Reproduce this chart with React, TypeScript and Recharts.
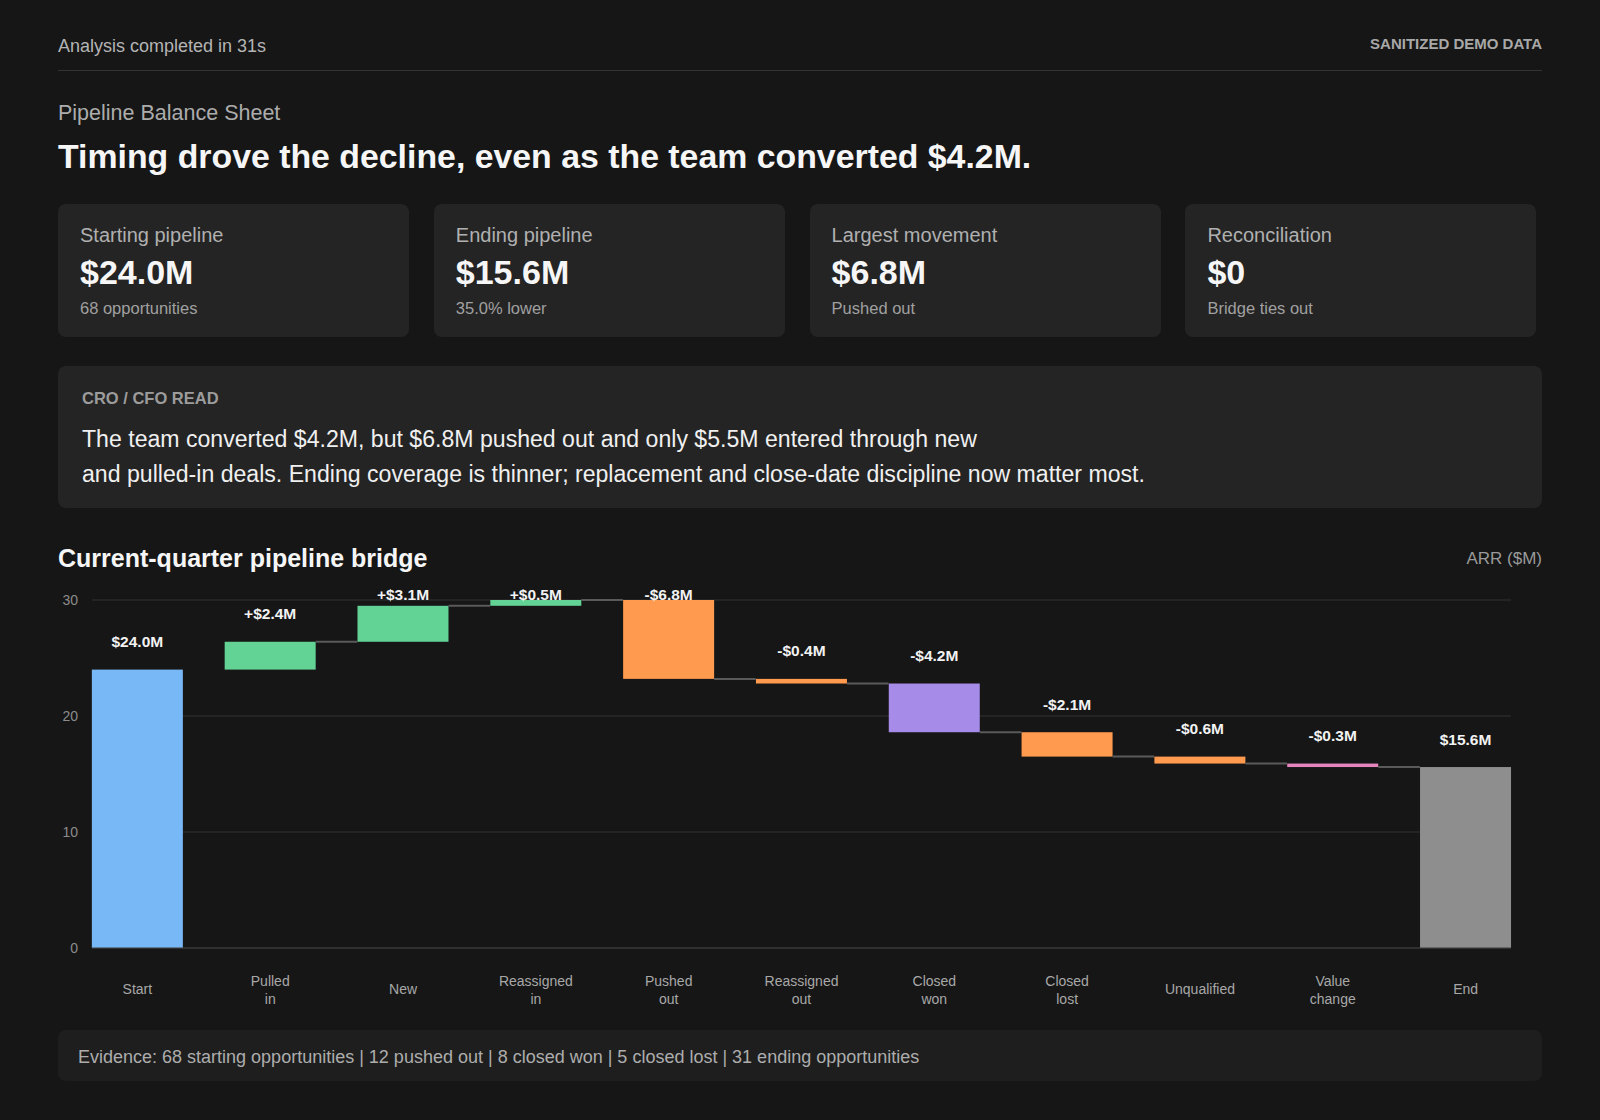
import { BarChart, Bar, XAxis, YAxis, CartesianGrid, Cell } from 'recharts';

const categories = ['Start', 'Pulled in', 'New', 'Reassigned in', 'Pushed out', 'Reassigned out', 'Closed won', 'Closed lost', 'Unqualified', 'Value change', 'End'];
const movements = [24.0, 2.4, 3.1, 0.5, -6.8, -0.4, -4.2, -2.1, -0.6, -0.3, 15.6];
const kinds = ['total', 'step', 'step', 'step', 'step', 'step', 'step', 'step', 'step', 'step', 'total'];
const barColors = ['#79b8f6', '#62d394', '#62d394', '#62d394', '#ff9a4e', '#ff9a4e', '#a68ce8', '#ff9a4e', '#ff9a4e', '#e686bf', '#8e8e8e'];
const yTicks = [0, 10, 20, 30];

const cards = [
  { label: 'Starting pipeline', value: '$24.0M', note: '68 opportunities' },
  { label: 'Ending pipeline', value: '$15.6M', note: '35.0% lower' },
  { label: 'Largest movement', value: '$6.8M', note: 'Pushed out' },
  { label: 'Reconciliation', value: '$0', note: 'Bridge ties out' },
];

const FONT = '"Liberation Sans", Arial, sans-serif';
const PLOT_TOP = 20;
const GAP_FRAC = 0.157; // barCategoryGap on each side of a band

// running totals -> invisible base + visible delta
const chartData = (() => {
  let level = 0;
  return categories.map((name, i) => {
    const mv = movements[i];
    let base: number, delta: number, up: boolean;
    if (kinds[i] === 'total') {
      base = 0;
      delta = mv;
      up = true;
      level = mv;
    } else {
      const next = level + mv;
      base = Math.min(level, next);
      delta = Math.abs(mv);
      up = mv >= 0;
      level = next;
    }
    const label = kinds[i] === 'total'
      ? `$${mv.toFixed(1)}M`
      : `${mv >= 0 ? '+' : '-'}$${Math.abs(mv).toFixed(1)}M`;
    return { name, base, delta, up, label, connect: i > 0 && i < categories.length - 1 };
  });
})();

function Txt({ x, cy, size, color, weight = 400, children, align = 'left' }: any) {
  const lh = Math.round(size * 1.25);
  const style: any = {
    position: 'absolute',
    top: cy - lh / 2,
    fontSize: size,
    lineHeight: `${lh}px`,
    color,
    fontWeight: weight,
    whiteSpace: 'nowrap',
  };
  if (align === 'right') style.right = 1600 - x;
  else style.left = x;
  return <div style={style}>{children}</div>;
}

const WaterfallShape = (props: any) => {
  const { x, y, width, height, fill, payload } = props;
  const gap = (width * 2 * GAP_FRAC) / (1 - 2 * GAP_FRAC);
  const level = payload.up ? y : y + height;
  const ly = Math.max(y - 28, PLOT_TOP - 6);
  return (
    <g>
      <rect x={x} y={y} width={width} height={height} fill={fill} />
      {payload.connect && (
        <line x1={x + width} x2={x + width + gap} y1={level} y2={level} stroke="#5a5a5a" strokeWidth={2} />
      )}
      <text x={x + width / 2} y={ly} textAnchor="middle" dominantBaseline="central" fill="#f2f2f2" fontSize={15.5} fontWeight={700} fontFamily={FONT}>
        {payload.label}
      </text>
    </g>
  );
};

const XTick = (props: any) => {
  const { x, y, payload } = props;
  const words = String(payload.value).split(' ');
  const lines = words.length > 1 ? [words.slice(0, -1).join(' '), words[words.length - 1]] : words;
  const start = lines.length === 1 ? y + 33 : y + 25;
  return (
    <g>
      {lines.map((ln, i) => (
        <text key={i} x={x} y={start + i * 18} textAnchor="middle" dominantBaseline="central" fill="#a8a8a8" fontSize={14} fontFamily={FONT}>
          {ln}
        </text>
      ))}
    </g>
  );
};

export default function App() {
  return (
    <div style={{ position: 'absolute', left: 0, top: 0, width: 1600, height: 1120, background: '#161616', fontFamily: FONT, overflow: 'hidden' }}>
      <Txt x={58} cy={46} size={18} color="#b4b4b4">Analysis completed in 31s</Txt>
      <Txt x={1542} cy={43} size={15} color="#a8a8a8" weight={700} align="right">SANITIZED DEMO DATA</Txt>
      <div style={{ position: 'absolute', left: 58, top: 70, width: 1484, height: 1, background: '#333' }} />

      <Txt x={58} cy={113} size={21.5} color="#acacac">Pipeline Balance Sheet</Txt>
      <Txt x={58} cy={156} size={33.85} color="#f6f6f6" weight={700}>Timing drove the decline, even as the team converted $4.2M.</Txt>

      {cards.map((c, i) => {
        const left = 58 + i * 375.8;
        return (
          <div key={c.label} style={{ position: 'absolute', left, top: 204, width: 351, height: 133, background: '#242424', borderRadius: 8 }}>
            <Txt x={22} cy={31} size={20} color="#b0b0b0">{c.label}</Txt>
            <Txt x={22} cy={68} size={34} color="#f6f6f6" weight={700}>{c.value}</Txt>
            <Txt x={22} cy={104} size={16.5} color="#a0a0a0">{c.note}</Txt>
          </div>
        );
      })}

      <div style={{ position: 'absolute', left: 58, top: 366, width: 1484, height: 142, background: '#242424', borderRadius: 8 }}>
        <Txt x={24} cy={32} size={16.5} color="#9c9c9c" weight={700}>CRO / CFO READ</Txt>
        <Txt x={24} cy={73} size={23.1} color="#f0f0f0">The team converted $4.2M, but $6.8M pushed out and only $5.5M entered through new</Txt>
        <Txt x={24} cy={108} size={23.1} color="#f0f0f0">and pulled-in deals. Ending coverage is thinner; replacement and close-date discipline now matter most.</Txt>
      </div>

      <Txt x={58} cy={558} size={25} color="#f6f6f6" weight={700}>Current-quarter pipeline bridge</Txt>
      <Txt x={1542} cy={558} size={17} color="#9a9a9a" align="right">ARR ($M)</Txt>

      <div style={{ position: 'absolute', left: 58, top: 580 }}>
        <BarChart width={1484} height={428} data={chartData} margin={{ top: PLOT_TOP, right: 31, left: 0, bottom: 0 }} barCategoryGap={`${GAP_FRAC * 100}%`}>
          <CartesianGrid vertical={false} stroke="#323232" />
          <XAxis dataKey="name" axisLine={{ stroke: '#3c3c3c' }} tickLine={false} height={60} interval={0} padding={{ left: -21, right: -21 }} tick={<XTick />} />
          <YAxis domain={[0, 30]} ticks={yTicks} width={34} axisLine={false} tickLine={false} tickMargin={8} tick={{ fill: '#8c8c8c', fontSize: 14, fontFamily: FONT }} />
          <Bar dataKey="base" stackId="w" fill="transparent" isAnimationActive={false} />
          <Bar dataKey="delta" stackId="w" isAnimationActive={false} shape={<WaterfallShape />}>
            {chartData.map((d, i) => (
              <Cell key={d.name} fill={barColors[i]} />
            ))}
          </Bar>
        </BarChart>
      </div>

      <div style={{ position: 'absolute', left: 58, top: 1030, width: 1484, height: 51, background: '#1e1e1e', borderRadius: 8 }}>
        <Txt x={20} cy={27} size={18} color="#adadad">Evidence: 68 starting opportunities | 12 pushed out | 8 closed won | 5 closed lost | 31 ending opportunities</Txt>
      </div>
    </div>
  );
}
